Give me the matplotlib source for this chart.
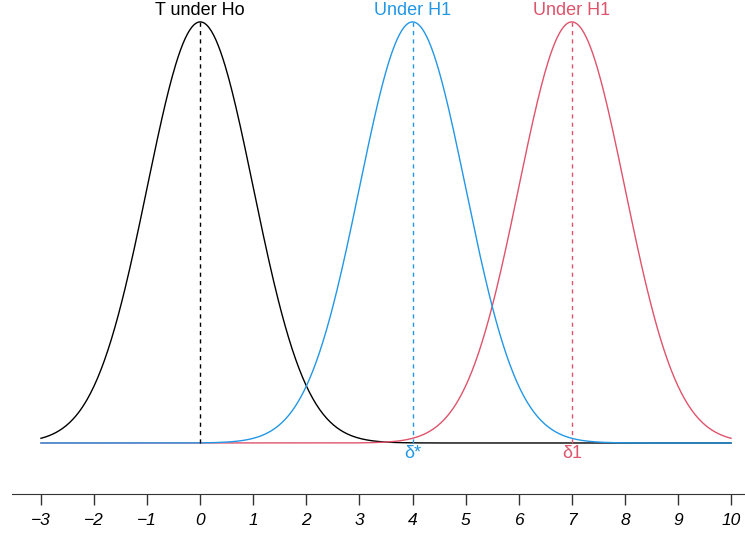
import numpy as np
import matplotlib
matplotlib.use("Agg")
import matplotlib.pyplot as plt

plt.rcParams['font.family'] = ['Liberation Sans', 'DejaVu Sans']

# distributions: null and two alternatives
means = [0, 4, 7]
sds = [1, 1, 1]
colors = ['black', '#DF536B', '#2297E6']   # drawing order: black, red, blue
top_labels = ['T under Ho', 'Under H1', 'Under H1']
label_colors = ['black', '#2297E6', '#DF536B']
label_pos = [0, 4, 7]
marks = ['\u03b4*', '\u03b41']
mark_pos = [4, 7]
mark_colors = ['#2297E6', '#DF536B']
draw_means = [0, 7, 4]
ticks = list(range(-3, 11))

x_lo, x_hi = -3, 10


def dnorm(x, m, s):
    return np.exp(-0.5 * ((x - m) / s) ** 2) / (s * np.sqrt(2 * np.pi))


fig = plt.figure(figsize=(7.45, 5.46), dpi=100)
ax = fig.add_axes([0, 0, 1, 1])

xs = np.linspace(x_lo, x_hi, 600)
for m, c in zip(draw_means, colors):
    ax.plot(xs, dnorm(xs, m, 1), color=c, lw=1.0)

peak = dnorm(0, 0, 1)
for m, c in zip(means, ['black', '#2297E6', '#DF536B']):
    ax.plot([m, m], [0, peak], color=c, lw=1.0, ls=(0, (3, 3)))

for lab, xp, c in zip(top_labels, label_pos, label_colors):
    ax.text(xp, peak + 0.0025, lab, color=c, ha='center', va='bottom', fontsize=13)

for lab, xp, c in zip(marks, mark_pos, mark_colors):
    ax.text(xp, -0.0015, lab, color=c, ha='center', va='top', fontsize=13)

# pixel-matched limits
ax.set_xlim(-3.772, 10.263)
ax.set_ylim(-0.0976, 0.4197)

for sp in ['top', 'left', 'right']:
    ax.spines[sp].set_visible(False)
ax.spines['bottom'].set_position(('data', -0.0483))
ax.spines['bottom'].set_bounds(-3.55, 10.3)
ax.spines['bottom'].set_color('#333333')
ax.set_yticks([])
ax.set_xticks(ticks)
ax.set_xticklabels([str(t).replace('-', '\u2212') for t in ticks],
                   fontstyle='italic', fontsize=12.5)
ax.tick_params(axis='x', direction='out', length=8, width=1, pad=6, colors='#333333',
               labelcolor='black')

fig.savefig('out.png', dpi=100)
